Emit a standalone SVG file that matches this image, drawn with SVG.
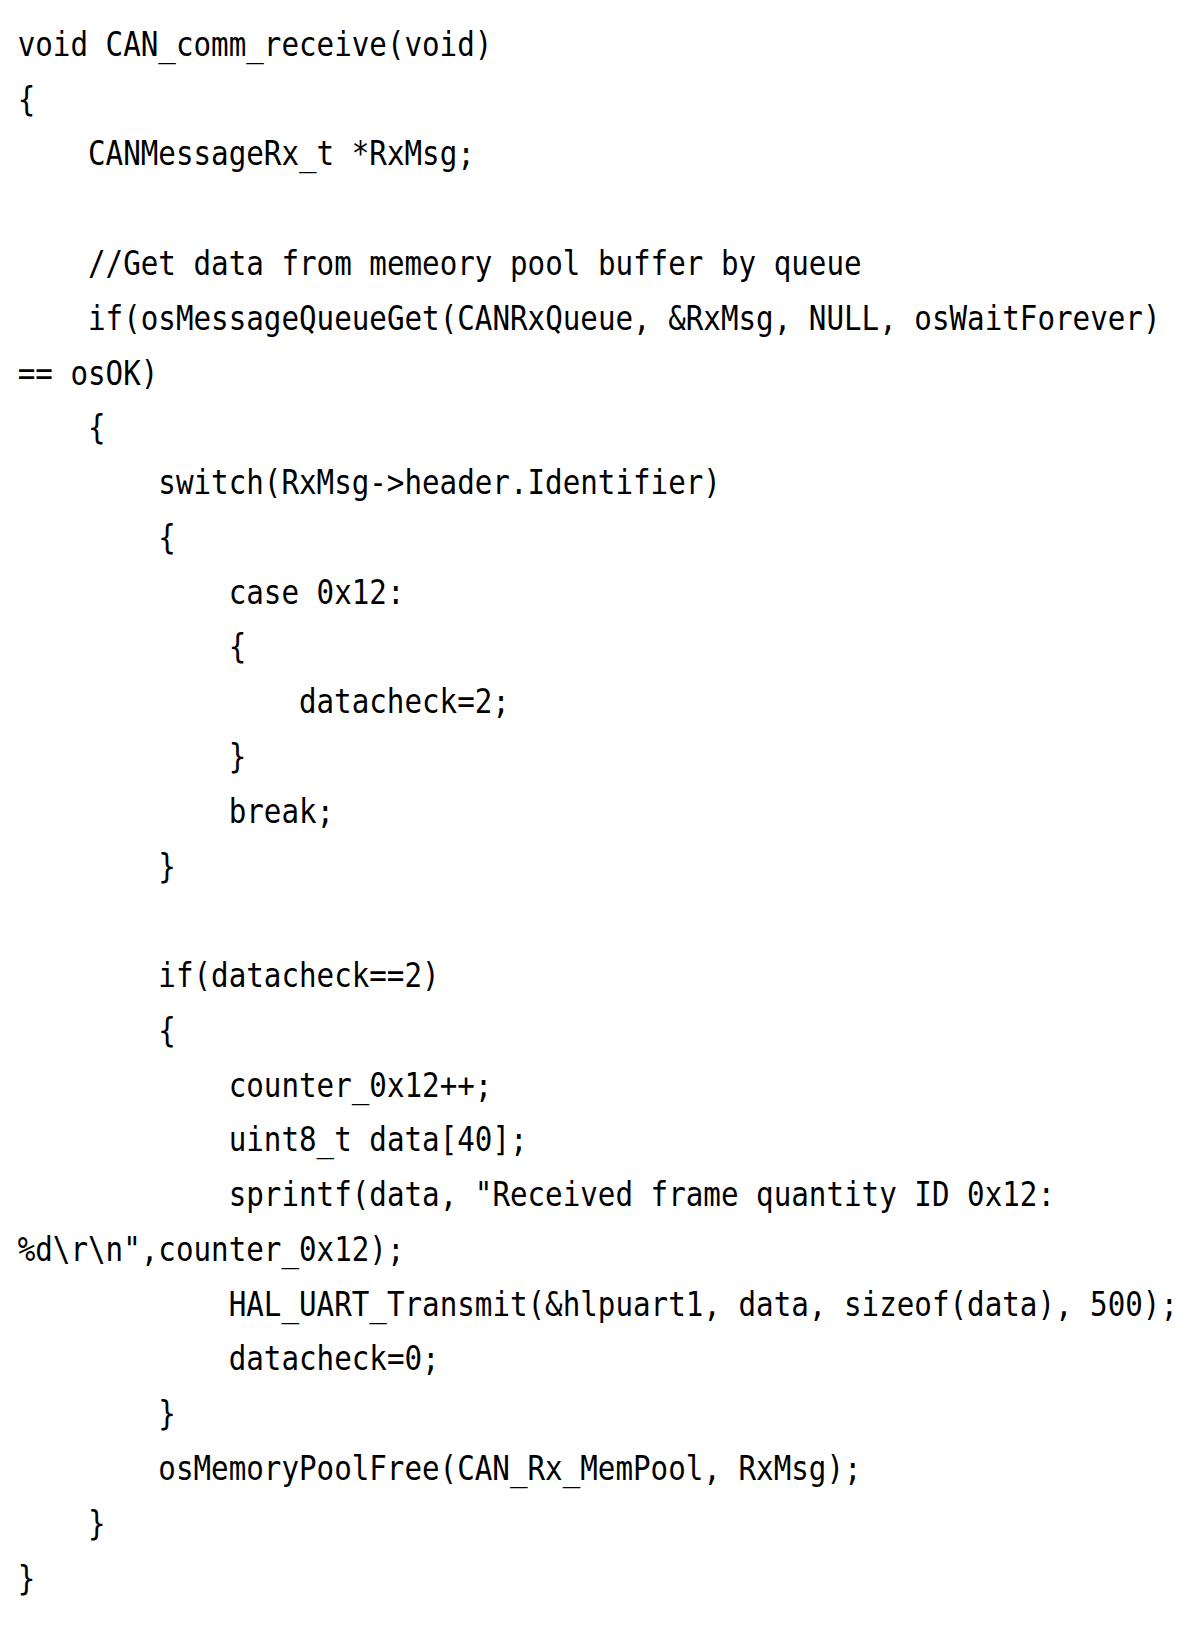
<svg xmlns="http://www.w3.org/2000/svg" width="1200" height="1632" viewBox="0 0 1200 1632">
<style>
.c{font-family:"DejaVu Sans Mono","Liberation Mono",monospace;font-size:33px;fill:#000;}
</style>
<rect width="1200" height="1632" fill="#fff"/>
<g id="code" transform="scale(0.885 1)" class="c">
<text x="20" y="56">void CAN_comm_receive(void)</text>
<text x="20" y="110.8">{</text>
<text x="99.5" y="165.5">CANMessageRx_t *RxMsg;</text>
<text x="99.5" y="275.1">//Get data from memeory pool buffer by queue</text>
<text x="99.5" y="329.9">if(osMessageQueueGet(CANRxQueue, &amp;RxMsg, NULL, osWaitForever)</text>
<text x="20" y="384.6">== osOK)</text>
<text x="99.5" y="439.4">{</text>
<text x="178.9" y="494.2">switch(RxMsg-&gt;header.Identifier)</text>
<text x="178.9" y="548.9">{</text>
<text x="258.4" y="603.7">case 0x12:</text>
<text x="258.4" y="658.5">{</text>
<text x="337.8" y="713.2">datacheck=2;</text>
<text x="258.4" y="768">}</text>
<text x="258.4" y="822.8">break;</text>
<text x="178.9" y="877.6">}</text>
<text x="178.9" y="987.1">if(datacheck==2)</text>
<text x="178.9" y="1041.9">{</text>
<text x="258.4" y="1096.6">counter_0x12++;</text>
<text x="258.4" y="1151.4">uint8_t data[40];</text>
<text x="258.4" y="1206.2">sprintf(data, "Received frame quantity ID 0x12:</text>
<text x="20" y="1260.9">%d\r\n",counter_0x12);</text>
<text x="258.4" y="1315.7">HAL_UART_Transmit(&amp;hlpuart1, data, sizeof(data), 500);</text>
<text x="258.4" y="1370.5">datacheck=0;</text>
<text x="178.9" y="1425.3">}</text>
<text x="178.9" y="1480">osMemoryPoolFree(CAN_Rx_MemPool, RxMsg);</text>
<text x="99.5" y="1534.8">}</text>
<text x="20" y="1589.6">}</text>
</g>
</svg>
